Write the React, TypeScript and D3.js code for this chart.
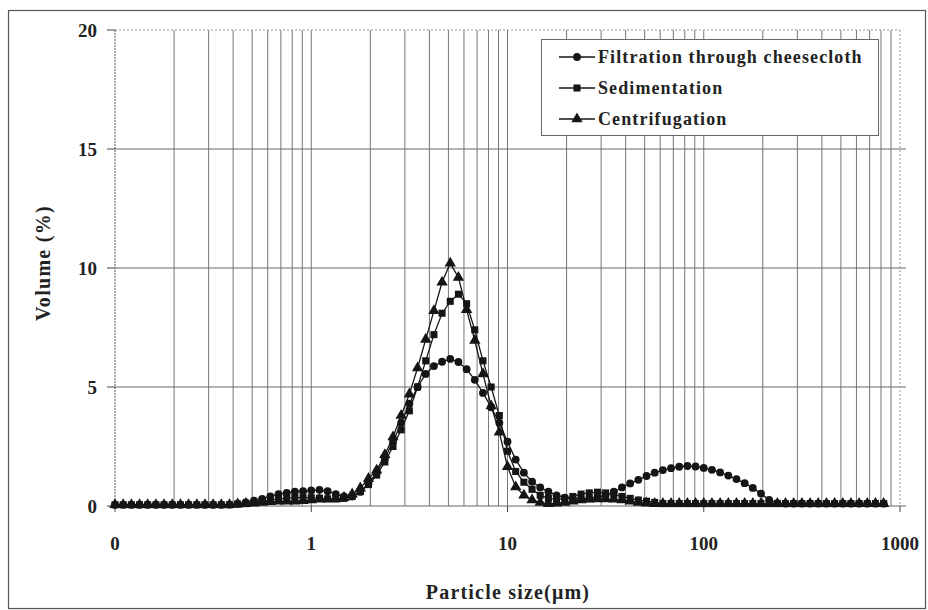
import React from "react";
import * as d3 from "d3";

// Particle size bins (µm)
const sizes = [
  0.1, 0.1101, 0.1212, 0.1334, 0.1468, 0.1616, 0.1778, 0.1957, 0.2154, 0.2371,
  0.261, 0.2873, 0.3162, 0.3481, 0.3831, 0.4217, 0.4642, 0.5109, 0.5623, 0.619,
  0.6813, 0.7499, 0.8254, 0.9085, 1.0, 1.101, 1.212, 1.334, 1.468, 1.616,
  1.778, 1.957, 2.154, 2.371, 2.61, 2.873, 3.162, 3.481, 3.831, 4.217,
  4.642, 5.109, 5.623, 6.19, 6.813, 7.499, 8.254, 9.085, 10, 11.01,
  12.12, 13.34, 14.68, 16.16, 17.78, 19.57, 21.54, 23.71, 26.1, 28.73,
  31.62, 34.81, 38.31, 42.17, 46.42, 51.09, 56.23, 61.9, 68.13, 74.99,
  82.54, 90.85, 100, 110.1, 121.2, 133.4, 146.8, 161.6, 177.8, 195.7,
  215.4, 237.1, 261, 287.3, 316.2, 348.1, 383.1, 421.7, 464.2, 510.9,
  562.3, 619, 681.3, 749.9, 825.4,
];

const filtration = [
  0.05, 0.05, 0.05, 0.05, 0.05, 0.05, 0.05, 0.05, 0.05, 0.05,
  0.05, 0.05, 0.05, 0.05, 0.06, 0.1, 0.15, 0.22, 0.3, 0.4,
  0.5, 0.55, 0.6, 0.62, 0.65, 0.68, 0.62, 0.5, 0.4, 0.4,
  0.6, 0.95, 1.4, 2.0, 2.7, 3.5, 4.3, 5.0, 5.55, 5.88,
  6.06, 6.18, 6.05, 5.75, 5.3, 4.75, 4.15, 3.5, 2.7, 1.95,
  1.4, 1.02, 0.78, 0.6, 0.45, 0.35, 0.3, 0.3, 0.32, 0.36,
  0.45, 0.6, 0.78, 0.95, 1.1, 1.26, 1.4, 1.51, 1.59, 1.65,
  1.68, 1.66, 1.6, 1.52, 1.41, 1.28, 1.13, 0.96, 0.76, 0.52,
  0.26, 0.12, 0.1, 0.1, 0.1, 0.1, 0.1, 0.1, 0.1, 0.1,
  0.1, 0.1, 0.1, 0.1, 0.1,
];

const sedimentation = [
  0.05, 0.05, 0.05, 0.05, 0.05, 0.05, 0.05, 0.05, 0.05, 0.05,
  0.05, 0.05, 0.05, 0.05, 0.05, 0.08, 0.1, 0.15, 0.2, 0.25,
  0.3, 0.32, 0.35, 0.35, 0.35, 0.33, 0.3, 0.3, 0.32, 0.4,
  0.6, 0.9, 1.3, 1.85, 2.5, 3.2, 4.0, 5.0, 6.1, 7.2,
  8.1, 8.6, 8.9, 8.5, 7.4, 6.1, 5.0, 3.8, 2.3, 1.45,
  1.0, 0.7, 0.45, 0.32, 0.28, 0.32, 0.4, 0.5, 0.55, 0.58,
  0.55, 0.48, 0.4, 0.32, 0.25, 0.2, 0.15, 0.1, 0.1, 0.1,
  0.1, 0.1, 0.1, 0.1, 0.1, 0.1, 0.1, 0.1, 0.1, 0.1,
  0.1, 0.1, 0.1, 0.1, 0.1, 0.1, 0.1, 0.1, 0.1, 0.1,
  0.1, 0.1, 0.1, 0.1, 0.1,
];

const centrifugation = [
  0.05, 0.05, 0.05, 0.05, 0.05, 0.05, 0.05, 0.05, 0.05, 0.05,
  0.05, 0.05, 0.05, 0.05, 0.05, 0.08, 0.1, 0.12, 0.15, 0.18,
  0.2, 0.2, 0.2, 0.22, 0.25, 0.28, 0.3, 0.3, 0.35, 0.5,
  0.75, 1.15, 1.5, 2.15, 2.9, 3.8, 4.7, 5.8, 7.0, 8.2,
  9.4, 10.2, 9.6, 8.25, 6.95, 5.55, 4.2, 3.1, 1.65, 0.8,
  0.45, 0.25, 0.15, 0.1, 0.12, 0.15, 0.2, 0.25, 0.28, 0.3,
  0.3, 0.28, 0.25, 0.2, 0.15, 0.12, 0.1, 0.1, 0.1, 0.1,
  0.1, 0.1, 0.1, 0.1, 0.1, 0.1, 0.1, 0.1, 0.1, 0.1,
  0.1, 0.1, 0.1, 0.1, 0.1, 0.1, 0.1, 0.1, 0.1, 0.1,
  0.1, 0.1, 0.1, 0.1, 0.1,
];

const seriesNames = ["Filtration through cheesecloth", "Sedimentation", "Centrifugation"];
const yTicks = [0, 5, 10, 15, 20];
const xTicks = [0.1, 1, 10, 100, 1000];
const xTickLabels = ["0", "1", "10", "100", "1000"];

const W = 928;
const H = 610;
const FONT = "'Liberation Serif', 'Times New Roman', serif";

export default function App() {
  const x = d3.scaleLog().domain([0.1, 1000]).range([115, 900]);
  const y = d3.scaleLinear().domain([0, 20]).range([506, 30]);

  const gridX: number[] = [];
  [0.1, 1, 10, 100].forEach((dec) => {
    for (let m = 1; m <= 9; m++) {
      const v = dec * m;
      if (v > 0.1 + 1e-9) gridX.push(v);
    }
  });

  const data = [filtration, sedimentation, centrifugation];
  const symbols = [d3.symbolCircle, d3.symbolSquare, d3.symbolTriangle];
  const symSizes = [48, 50, 56];
  const ink = "#151515";

  const line = d3
    .line<number>()
    .x((_, i) => x(sizes[i]))
    .y((d) => y(d));

  const legendY = [57, 88, 119];

  return (
    <svg width={W} height={H} style={{ position: "absolute", left: 0, top: 0, background: "#fff" }}>
      <rect x={8.5} y={10.5} width={917} height={598} fill="#fff" stroke="#555" strokeWidth={1.2} />
      {/* vertical grid */}
      {gridX.map((v, i) => (
        <line key={"gx" + i} x1={x(v)} x2={x(v)} y1={y(20)} y2={y(0)} stroke="#777" strokeWidth={1} />
      ))}
      {/* horizontal grid */}
      {[5, 10, 15].map((v) => (
        <line key={"gy" + v} x1={x(0.1)} x2={x(1000) + 6} y1={y(v)} y2={y(v)} stroke="#666" strokeWidth={1} />
      ))}
      <line x1={x(0.1)} x2={x(1000)} y1={y(20)} y2={y(20)} stroke="#999" strokeWidth={1} strokeDasharray="2,2" />
      <line x1={x(1000)} x2={x(1000)} y1={y(20)} y2={y(0)} stroke="#999" strokeWidth={1} strokeDasharray="2,2" />
      <line x1={x(0.1)} x2={x(0.1)} y1={y(20)} y2={y(0)} stroke="#555" strokeWidth={1} strokeDasharray="2,1" />
      <line x1={x(0.1)} x2={x(1000) + 6} y1={y(0)} y2={y(0)} stroke="#666" strokeWidth={1} />
      {/* y ticks */}
      {yTicks.map((v) => (
        <g key={"yt" + v}>
          <line x1={107} x2={x(0.1)} y1={y(v)} y2={y(v)} stroke="#444" strokeWidth={1} />
          <text x={97} y={y(v) + 6.5} textAnchor="end" fontFamily={FONT} fontWeight="bold" fontSize={19} fill="#222">
            {v}
          </text>
        </g>
      ))}
      {/* x ticks */}
      {xTicks.map((v, i) => (
        <g key={"xt" + v}>
          <line x1={x(v)} x2={x(v)} y1={y(0)} y2={y(0) + 6} stroke="#444" strokeWidth={1} />
          <text x={x(v)} y={550} textAnchor="middle" fontFamily={FONT} fontWeight="bold" fontSize={19} fill="#222">
            {xTickLabels[i]}
          </text>
        </g>
      ))}
      {/* series */}
      {data.map((s, si) => (
        <g key={"s" + si}>
          <path d={line(s) || ""} fill="none" stroke={ink} strokeWidth={1.3} />
          {s.map((v, i) => (
            <path
              key={i}
              d={d3.symbol(symbols[si], symSizes[si])() || ""}
              transform={`translate(${x(sizes[i])},${y(v)})`}
              fill={ink}
            />
          ))}
        </g>
      ))}
      {/* legend */}
      <rect x={541.5} y={39.5} width={337} height={96} fill="#fff" stroke="#666" strokeWidth={1} />
      {seriesNames.map((n, i) => (
        <g key={"lg" + i}>
          <line x1={559} x2={595} y1={legendY[i]} y2={legendY[i]} stroke={ink} strokeWidth={1.3} />
          <path d={d3.symbol(symbols[i], symSizes[i])() || ""} transform={`translate(577,${legendY[i]})`} fill={ink} />
          <text
            x={598}
            y={legendY[i] + 6}
            fontFamily={FONT}
            fontWeight="bold"
            fontSize={18}
            letterSpacing={1.1}
            fill="#222"
          >
            {n}
          </text>
        </g>
      ))}
      {/* axis titles */}
      <text
        transform={`translate(50,${263}) rotate(-90)`}
        textAnchor="middle"
        fontFamily={FONT}
        fontWeight="bold"
        fontSize={20}
        letterSpacing={1.3}
        fill="#222"
      >
        Volume (%)
      </text>
      <text
        x={508}
        y={599}
        textAnchor="middle"
        fontFamily={FONT}
        fontWeight="bold"
        fontSize={20}
        letterSpacing={1.2}
        fill="#222"
      >
        Particle size(μm)
      </text>
    </svg>
  );
}
